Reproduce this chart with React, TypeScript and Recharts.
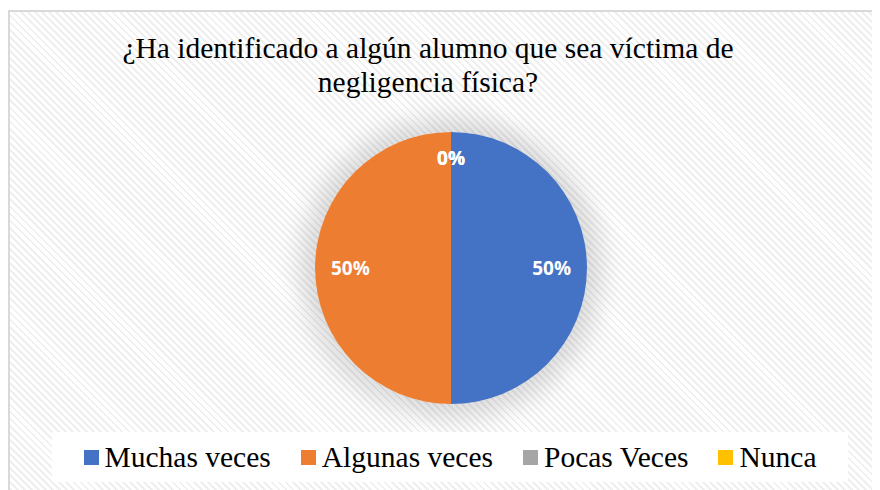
import React from "react";
import { PieChart, Pie, Cell } from "recharts";

const categories = ["Muchas veces", "Algunas veces", "Pocas Veces", "Nunca"];
const values = [50, 50, 0, 0];
const COLORS = ["#4472C4", "#ED7D31", "#A5A5A5", "#FFC000"];

const data = categories.map((name, i) => ({ name, value: values[i] }));
const total = values.reduce((a, b) => a + b, 0);

const SERIF = "'Liberation Serif', 'Times New Roman', serif";
const RADIAN = Math.PI / 180;

const renderLabel = (props: any) => {
  const { cx, cy, midAngle, outerRadius, value } = props;
  const r = outerRadius * (value === 0 ? 0.81 : 0.74);
  const x = cx + r * Math.cos(-midAngle * RADIAN);
  const y = cy + r * Math.sin(-midAngle * RADIAN);
  return (
    <text
      x={x}
      y={y}
      fill="#fff"
      textAnchor="middle"
      dominantBaseline="central"
      style={{ fontFamily: "Open Sans", fontWeight: 700, fontSize: 19 }}
    >
      {Math.round((value / total) * 100)}%
    </text>
  );
};

export default function App() {
  return (
    <div
      style={{
        position: "relative",
        width: 880,
        height: 490,
        margin: "-8px 0 0 -8px",
        background: "#fff",
        overflow: "hidden",
      }}
    >
      <div
        style={{
          position: "absolute",
          left: 8,
          top: 10,
          width: 880,
          height: 490,
          borderTop: "2px solid #d9d9d9",
          borderLeft: "2px solid #d9d9d9",
          backgroundColor: "#fafafa",
          backgroundImage:
            "repeating-linear-gradient(45deg, #ffffff 0px, #ffffff 3px, #efefef 3px, #efefef 5px)",
        }}
      />
      <div
        style={{
          position: "absolute",
          left: 451 - 136,
          top: 268 - 136,
          width: 272,
          height: 272,
          borderRadius: "50%",
          boxShadow: "0 0 26px 14px rgba(0,0,0,0.14)",
        }}
      />
      <div
        style={{
          position: "absolute",
          left: 0,
          top: 31,
          width: 856,
          textAlign: "center",
          fontFamily: SERIF,
          fontSize: 29.5,
          lineHeight: "34px",
          color: "#000",
        }}
      >
        ¿Ha identificado a algún alumno que sea víctima de
        <br />
        negligencia física?
      </div>
      <div style={{ position: "absolute", left: 0, top: 0 }}>
        <PieChart width={880} height={490} margin={{ top: 0, right: 0, bottom: 0, left: 0 }}>
          <Pie
            data={data}
            dataKey="value"
            nameKey="name"
            cx={451}
            cy={268}
            outerRadius={136}
            startAngle={90}
            endAngle={-270}
            stroke="none"
            label={renderLabel}
            labelLine={false}
            isAnimationActive={false}
          >
            {data.map((entry, index) => (
              <Cell key={`cell-${index}`} fill={COLORS[index % COLORS.length]} />
            ))}
          </Pie>
        </PieChart>
      </div>
      <div
        style={{
          position: "absolute",
          left: 52,
          top: 432,
          width: 796,
          height: 50,
          display: "flex",
          justifyContent: "center",
          alignItems: "center",
          gap: 30,
          background: "rgba(255,255,255,0.92)",
          fontFamily: SERIF,
          fontSize: 29.5,
          color: "#000",
        }}
      >
        {categories.map((c, i) => (
          <div key={`lg-${i}`} style={{ display: "flex", alignItems: "center" }}>
            <span
              style={{
                display: "inline-block",
                width: 15,
                height: 15,
                background: COLORS[i],
                marginRight: 6,
              }}
            />
            <span>{c}</span>
          </div>
        ))}
      </div>
    </div>
  );
}
